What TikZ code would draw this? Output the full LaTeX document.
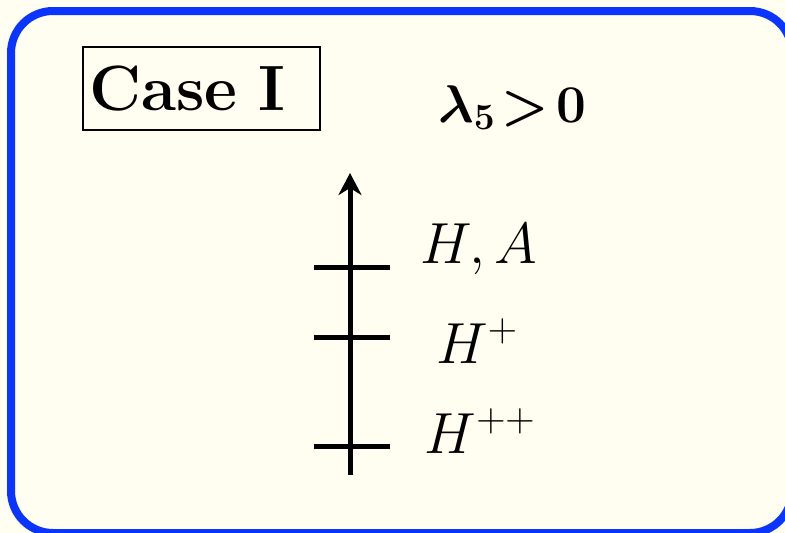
\RequirePackage{fix-cm}
\documentclass[tikz,border=0pt]{standalone}
\usepackage{amsmath,amssymb}
\usepackage{xcolor}
\usetikzlibrary{arrows.meta}
\definecolor{cream}{RGB}{255,254,240}
\definecolor{frameblue}{RGB}{10,52,255}

\begin{document}
\begin{tikzpicture}[x=1pt,y=-1pt,
  >={Stealth[length=22pt,width=23pt,inset=7pt]},
  levelfont/.style={font=\fontsize{58}{64}\selectfont},
  condfont/.style={font=\fontsize{53}{58}\selectfont\bfseries\boldmath},
  axis/.style={->,line width=5pt},
  tickmark/.style={line width=5pt},
  lvl/.style={levelfont,anchor=base,inner sep=0pt}]
\useasboundingbox (0,0) rectangle (785,533);
\fill[cream] (0,0) rectangle (785,533);
\draw[frameblue,line width=8pt,rounded corners=42pt,fill=cream] (11,11) rectangle (792,533);
% title and condition
\node[draw,line width=1.5pt,minimum width=237pt,minimum height=83pt,text width=225pt,
      align=left,inner xsep=6pt,font=\fontsize{64}{70}\selectfont\bfseries]
  (casebox) at (201.5,88.5) {Case I};
\node[condfont,anchor=base west,inner sep=0pt] (cond) at (438,122)
  {$\lambda_5\mskip2mu{>}\mskip2mu0$};
% mass axis
\coordinate (axisbot) at (350,475);
\coordinate (axistop) at (350,173);
\draw[axis] (axisbot) -- (axistop);
\foreach \y/\n in {267/HA,337/Hp,446/Hpp}{
  \coordinate (\n-l) at (314,\y);
  \coordinate (\n-r) at (390,\y);
  \draw[tickmark] (\n-l) -- (\n-r);
}
\node[lvl] (labHA) at (479,263) {$H,A$};
\node[lvl] (labHp) at (477,363) {$H^+$};
\node[lvl] (labHpp) at (480,453) {$H^{++}$};
\end{tikzpicture}
\end{document}
